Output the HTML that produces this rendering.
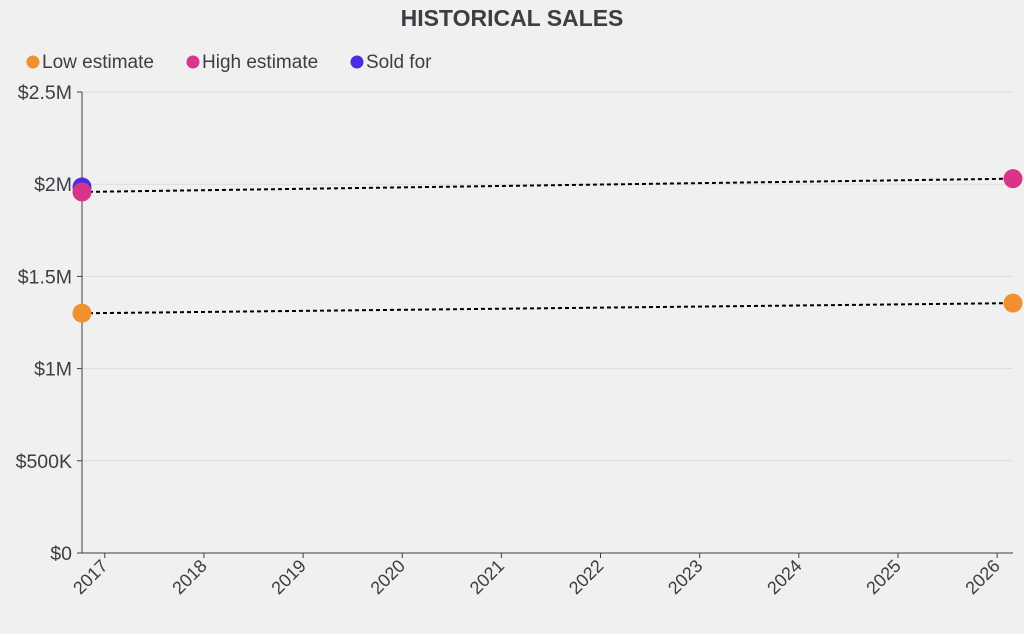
<!DOCTYPE html>
<html><head><meta charset="utf-8"><style>
body{margin:0;background:#f0f0f0;font-family:"Liberation Sans",sans-serif;}
svg{display:block}
</style></head><body>
<svg id="c" width="1024" height="634">
<text x="512" y="26" text-anchor="middle" font-size="23" font-weight="bold" fill="#3a3f44">HISTORICAL SALES</text>
<g>
<g><circle cx="33" cy="62" r="6.5" fill="#f0902f"/><text x="42" y="68" font-size="19" fill="#3a3f44">Low estimate</text></g>
<g><circle cx="193" cy="62" r="6.5" fill="#d8358a"/><text x="202" y="68" font-size="19" fill="#3a3f44">High estimate</text></g>
<g><circle cx="357" cy="62" r="6.5" fill="#4b2de0"/><text x="366" y="68" font-size="19" fill="#3a3f44">Sold for</text></g>
</g>
<g id="grid"></g><g id="axes"></g><g id="marks"></g>
</svg>
<script>
const yTicks=[0,500000,1000000,1500000,2000000,2500000];
const yTickLabels=["$0","$500K","$1M","$1.5M","$2M","$2.5M"];
const xTicks=[2017,2018,2019,2020,2021,2022,2023,2024,2025,2026];
const saleDates=[2016.77,2026.16];
const lowEstimate=[1300000,1355000];
const highEstimate=[1958000,2030000];
const soldFor=[1985000,null];
const NS="http://www.w3.org/2000/svg";
const L=82,R=1013,T=92,B=553;
const x=v=>L+(v-saleDates[0])/(saleDates[1]-saleDates[0])*(R-L);
const y=v=>B-v/2500000*(B-T);
function mk(tag,attrs,parent){const e=document.createElementNS(NS,tag);for(const k in attrs)e.setAttribute(k,attrs[k]);parent.appendChild(e);return e;}
const grid=document.getElementById('grid'),axes=document.getElementById('axes'),marks=document.getElementById('marks');
yTicks.forEach((t,i)=>{
 const g=mk('line',{x1:L,x2:R,y1:y(t),y2:y(t),stroke:'#dcdcdc','stroke-width':1},grid);
 
 
 mk('line',{x1:L-5,x2:L,y1:y(t),y2:y(t),stroke:'#3a3f44'},axes);
 const tx=mk('text',{x:L-10,y:y(t)+7,'text-anchor':'end','font-size':19.5,fill:'#3a3f44'},axes);
 tx.textContent=yTickLabels[i];
 
 
});
const ya=mk('line',{x1:L,x2:L,y1:T,y2:B,stroke:'#3a3f44'},axes);


const xa=mk('line',{x1:L,x2:R,y1:B,y2:B,stroke:'#3a3f44'},axes);


xTicks.forEach(t=>{
 const px=x(t);
 mk('line',{x1:px,x2:px,y1:B,y2:B+5,stroke:'#3a3f44'},axes);
 const tx=mk('text',{x:px+4,y:B+14,'text-anchor':'end','font-size':18,fill:'#3a3f44',transform:`rotate(-45 ${px+4} ${B+14})`},axes);
 tx.textContent=t;
 
 
});
[lowEstimate,highEstimate].forEach(s=>{
 const l=mk('line',{x1:x(saleDates[0]),y1:y(s[0]),x2:x(saleDates[1]),y2:y(s[1]),stroke:'#000','stroke-width':2,'stroke-dasharray':'4,3'},marks);
 
 
});
[[soldFor,'#4b2de0','sold-point'],[lowEstimate,'#f0902f','low-point'],[highEstimate,'#d8358a','high-point']].forEach(([s,c,n])=>{
 s.forEach((v,i)=>{
  if(v==null)return;
  const p=mk('circle',{cx:x(saleDates[i]),cy:y(v),r:9.5,fill:c},marks);
  
  
 });
});
</script>
</body></html>
